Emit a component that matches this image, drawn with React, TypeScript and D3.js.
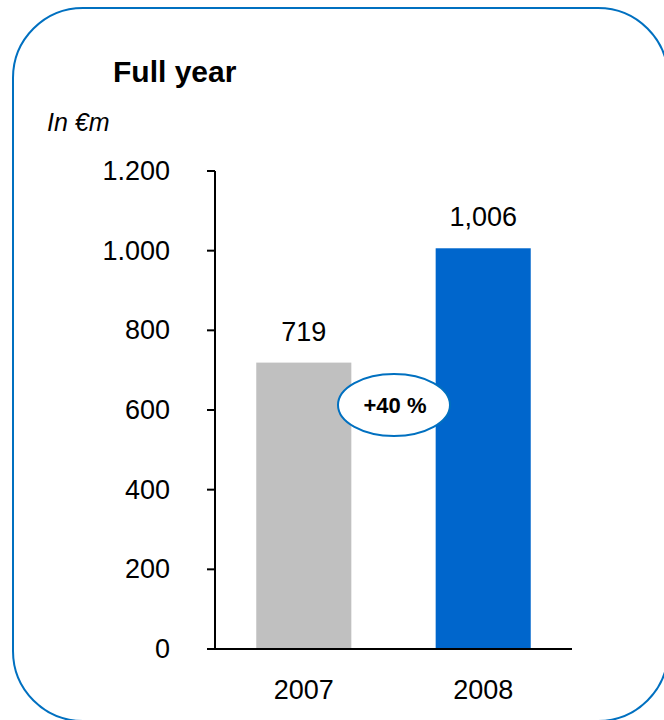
import React from "react";
import * as d3 from "d3";

const categories = ["2007", "2008"];
const values = [719, 1006];
const valueLabels = ["719", "1,006"];
const barColors = ["#C0C0C0", "#0066CC"];
const yTicks = [0, 200, 400, 600, 800, 1000, 1200];
const yTickLabels = ["0", "200", "400", "600", "800", "1.000", "1.200"];
const title = "Full year";
const unit = "In €m";
const growthLabel = "+40 %";

export default function App() {
  const W = 664, H = 720;
  const y = d3.scaleLinear().domain([0, 1200]).range([649, 171]);
  const x = d3.scaleBand().domain(categories).range([215, 572]).paddingInner(0.47).paddingOuter(0.23);
  const font = "Arial, 'Liberation Sans', sans-serif";
  const blue = "#0070C0";
  return (
    <svg width={W} height={H} style={{ position: "absolute", left: 0, top: 0, background: "#fff" }}>
      <rect x={13} y={8} width={655} height={713} rx={70} ry={70} fill="white" stroke={blue} strokeWidth={2} />
      <text x={113} y={82} fontFamily={font} fontWeight="bold" fontSize={30} fill="#000">{title}</text>
      <text x={47} y={131} fontFamily={font} fontStyle="italic" fontSize={25} fill="#000">{unit}</text>
      {categories.map((c, i) => (
        <rect key={c} x={x(c)} y={y(values[i])} width={x.bandwidth()} height={y(0) - y(values[i])} fill={barColors[i]} />
      ))}
      <line x1={215} x2={215} y1={y(1200)} y2={y(0)} stroke="#000" strokeWidth={2} />
      <line x1={207} x2={572} y1={y(0)} y2={y(0)} stroke="#000" strokeWidth={2} />
      {yTicks.map((t, i) => (
        <g key={t}>
          <line x1={207} x2={215} y1={y(t)} y2={y(t)} stroke="#000" strokeWidth={2} />
          <text x={170} y={y(t) + 9} textAnchor="end" fontFamily={font} fontSize={27} fill="#000">{yTickLabels[i]}</text>
        </g>
      ))}
      {categories.map((c, i) => (
        <g key={c + "l"}>
          <text x={(x(c) as number) + x.bandwidth() / 2} y={y(values[i]) - 22} textAnchor="middle" fontFamily={font} fontSize={27} fill="#000">{valueLabels[i]}</text>
          <text x={(x(c) as number) + x.bandwidth() / 2} y={699} textAnchor="middle" fontFamily={font} fontSize={27} fill="#000">{c}</text>
        </g>
      ))}
      <ellipse cx={394} cy={405} rx={56} ry={31} fill="white" stroke={blue} strokeWidth={2} />
      <text x={395} y={413} textAnchor="middle" fontFamily={font} fontWeight="bold" fontSize={22} fill="#000">{growthLabel}</text>
    </svg>
  );
}
